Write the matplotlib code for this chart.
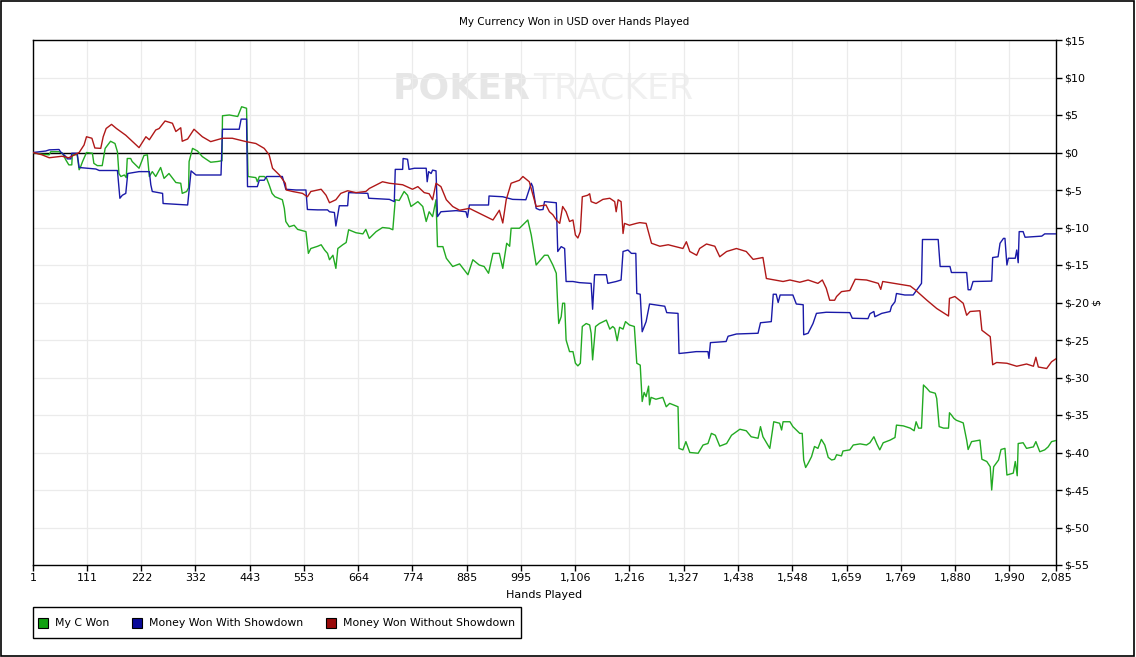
import matplotlib
matplotlib.use("Agg")
import matplotlib.pyplot as plt
from matplotlib.patches import Rectangle

# (hand, dollars)
my_c_won = [(1,0),(20,-0.25),(34,-0.3),(37,0.1),(54,0.1),(61,-0.1),(68,-1),(74,-1.65),(80,-1.65),(81,-0.3),(91,-0.3),
    (95,-2.3),(98,-1.9),(102,-1.2),(110,0),(122,-0.1),(125,-1.45),(132,-1.75),(142,-1.75),(148,0.55),(159,1.5),(168,1.2),
    (173,0.1),(176,-2.8),(180,-3.2),(187,-3),(191,-3.35),(193,-0.8),(200,-0.8),(203,-1.2),(217,-2.1),(227,-0.4),(234,-0.3),
    (238,-3.2),(244,-2.55),(251,-3.2),(261,-2),(268,-3.45),(278,-2.8),(292,-4),(302,-4.1),(305,-5.45),(314,-5.2),(318,-4.7),
    (319,-1.2),(326,0.55),(336,0.2),(346,-0.55),(363,-1.3),(377,-1.2),(386,-1.1),(387,4.9),(401,5),(418,4.8),(422,5.45),
    (426,6.1),(436,5.9),(439,-3.2),(455,-3.35),(458,-3.9),(462,-3.2),(472,-3.2),(477,-3.45),(482,-4.3),(488,-5.45),(494,-5.9),
    (509,-6.3),(513,-7.45),(516,-9.2),(523,-9.9),(533,-9.7),(540,-10.25),(557,-10.55),(562,-13.45),(567,-12.8),(581,-12.5),
    (588,-12.3),(595,-13),(601,-13.45),(605,-14.3),(612,-13.7),(618,-15.45),(622,-12.8),(632,-12.3),(639,-12),(644,-10.3),
    (659,-10.7),(673,-10.85),(679,-10.25),(686,-11.45),(700,-10.55),(713,-10),(727,-10.1),(734,-10.3),(739,-6.3),(747,-6.4),
    (757,-5.2),(764,-5.7),(771,-7.2),(785,-6.55),(795,-7.2),(802,-9.2),(808,-7.9),(815,-8.55),(822,-6.3),(825,-12.55),
    (836,-12.55),(843,-14.1),(856,-15.2),(870,-14.85),(877,-15.45),(887,-16.3),(897,-14.3),(910,-15),(920,-15.2),(929,-16.1),
    (938,-13.45),(951,-13.45),(958,-15.45),(966,-12.1),(972,-12.5),(975,-10.1),(992,-10.1),(1009,-9),(1016,-11),(1026,-15),
    (1043,-13.7),(1050,-13.7),(1060,-15),(1067,-16.1),(1070,-20.55),(1072,-22.8),(1077,-21.9),(1080,-20.1),(1084,-20.1),
    (1087,-25),(1094,-26.55),(1101,-26.55),(1106,-28.1),(1111,-28.45),(1116,-28.1),(1120,-23.2),(1128,-22.8),(1135,-23),
    (1138,-24.1),(1141,-27.65),(1147,-23.2),(1155,-22.8),(1169,-22.35),(1176,-23.55),(1182,-23.2),(1186,-23.45),(1191,-25.1),
    (1196,-23.3),(1203,-23.55),(1208,-22.55),(1216,-23),(1226,-23.2),(1231,-28.1),(1238,-28.35),(1242,-33.2),(1246,-32),
    (1250,-32.55),(1255,-31.15),(1257,-33.65),(1260,-32.65),(1270,-32.9),(1284,-32.65),(1291,-33.9),(1298,-33.45),(1315,-33.9),
    (1317,-39.45),(1325,-39.65),(1331,-38.55),(1339,-40),(1356,-40.1),(1366,-39),(1376,-38.8),(1383,-37.45),(1391,-37.7),
    (1400,-39.15),(1414,-38.8),(1424,-37.7),(1441,-36.9),(1454,-37.1),(1464,-37.9),(1478,-38.1),(1483,-36.55),(1488,-37.9),
    (1502,-39.45),(1510,-35.9),(1522,-36.1),(1526,-37),(1529,-35.9),(1543,-35.9),(1549,-36.55),(1563,-37.45),(1568,-37.45),
    (1571,-41),(1575,-42),(1580,-41.45),(1587,-40.55),(1590,-39.9),(1593,-39.2),(1600,-39.45),(1607,-38.25),(1614,-39),
    (1621,-40.65),(1628,-41),(1634,-40.9),(1638,-40.3),(1648,-40.45),(1651,-39.8),(1665,-39.65),(1672,-39),(1686,-38.85),
    (1699,-39),(1706,-38.7),(1714,-37.9),(1720,-38.85),(1726,-39.65),(1733,-38.7),(1747,-38.35),(1757,-38),(1760,-36.35),
    (1774,-36.45),(1788,-36.75),(1796,-37.1),(1800,-35.9),(1805,-36.75),(1811,-36.75),(1815,-31),(1822,-31.45),(1828,-31.9),
    (1839,-32.1),(1842,-32.8),(1847,-36.55),(1856,-36.75),(1866,-36.75),(1868,-34.7),(1872,-35),(1877,-35.45),(1882,-35.7),
    (1896,-36.05),(1903,-38.35),(1906,-39.6),(1913,-38.55),(1930,-38.35),(1934,-40.9),(1944,-41.2),(1951,-41.9),(1954,-45),
    (1958,-41.9),(1968,-41),(1973,-39.6),(1981,-39.45),(1985,-43),(1998,-42.75),(2002,-41.2),(2006,-43.1),(2008,-38.8),
    (2018,-38.7),(2025,-39.45),(2039,-39.25),(2044,-38.55),(2052,-39.9),(2062,-39.65),(2069,-39.25),(2076,-38.55),(2085,-38.4)]

with_showdown = [(1,0),(27,0.2),(34,0.35),(54,0.4),(57,0.1),(68,-0.55),(71,-0.85),(78,-0.85),(80,-0.1),(91,-0.1),(95,-2),
    (129,-2.2),(136,-2.4),(173,-2.4),(178,-6.1),(183,-5.7),(190,-5.45),(194,-2.8),(217,-2.55),(238,-2.55),(241,-4.3),
    (244,-5.2),(265,-5.45),(266,-6.8),(292,-6.9),(316,-7),(323,-2.45),(333,-3),(384,-3),(387,3.1),(421,3.1),(425,4.45),
    (436,4.45),(438,-4.55),(458,-4.55),(462,-3.7),(472,-3.7),(477,-3.2),(509,-3.2),(516,-4.9),(537,-5),(557,-5),(560,-7.6),
    (581,-7.65),(601,-7.65),(605,-7.9),(615,-8),(618,-9.8),(622,-8.3),(625,-7.1),(642,-7.1),(644,-5.35),(683,-5.45),
    (685,-6.1),(727,-6.25),(737,-6.55),(739,-2.25),(754,-2.25),(755,-0.8),(764,-0.9),(767,-2.25),(778,-2.1),(802,-2.1),
    (804,-3.9),(807,-2.55),(812,-2.8),(815,-2.35),(822,-2.45),(825,-8.55),(832,-7.9),(863,-7.75),(883,-7.9),(886,-8.65),
    (890,-7),(929,-7),(930,-5.8),(958,-5.9),(978,-6.25),(1005,-6.3),(1016,-4.1),(1019,-4.55),(1026,-7.45),(1033,-7.65),
    (1040,-7.6),(1043,-6.55),(1067,-6.7),(1070,-13.2),(1077,-12.55),(1084,-12.8),(1087,-17.2),(1101,-17.2),(1114,-17.35),
    (1138,-17.45),(1141,-20.9),(1145,-16.3),(1169,-16.3),(1172,-17.45),(1189,-17.2),(1199,-17),(1203,-13.2),(1213,-13),
    (1220,-13.45),(1229,-13.45),(1231,-18.8),(1238,-18.9),(1242,-23.9),(1250,-22.55),(1257,-20.2),(1288,-20.5),(1292,-21.35),
    (1315,-21.45),(1317,-26.8),(1332,-26.7),(1352,-26.55),(1376,-26.55),(1378,-27.45),(1381,-25.35),(1413,-25.2),(1417,-24.5),
    (1434,-24.2),(1478,-24.1),(1483,-22.7),(1505,-22.55),(1509,-18.9),(1515,-18.9),(1519,-20),(1523,-19),(1549,-19),
    (1556,-20.2),(1570,-20.3),(1571,-24.3),(1580,-24.1),(1590,-22.8),(1597,-21.45),(1617,-21.3),(1665,-21.35),(1670,-22.1),
    (1702,-22.15),(1706,-21.5),(1714,-21.2),(1716,-21.9),(1730,-21.45),(1747,-21.2),(1750,-20.5),(1757,-19.9),(1760,-18.8),
    (1777,-19),(1794,-19),(1811,-17.45),(1813,-11.6),(1845,-11.6),(1849,-15.2),(1869,-15.2),(1872,-16),(1903,-16),
    (1906,-18.3),(1911,-18.3),(1916,-17.2),(1954,-17.15),(1956,-14),(1967,-13.9),(1971,-12.1),(1978,-11.45),(1981,-11.45),
    (1985,-15),(1988,-14.1),(2002,-14.1),(2005,-13),(2008,-14.7),(2010,-10.55),(2018,-10.55),(2022,-11.3),(2056,-11.15),
    (2062,-10.85),(2085,-10.85)]

without_showdown = [(1,0),(19,-0.3),(34,-0.7),(60,-0.5),(74,-0.7),(95,0),(105,1),(110,2.1),(121,1.9),(127,0.6),(139,0.55),
    (144,2.1),(150,3.2),(161,3.75),(171,3.2),(190,2.3),(217,0.65),(231,2.1),(238,1.7),(251,3),(258,3.2),(270,4.2),(285,3.9),
    (292,2.8),(302,3.3),(305,1.5),(316,1.8),(329,3.1),(346,2.1),(363,1.45),(387,1.9),(407,1.9),(435,1.45),(455,1.2),
    (472,0.55),(482,-0.3),(489,-2.1),(503,-3),(515,-4.1),(517,-5),(530,-5.2),(550,-5.45),(560,-5.9),(567,-5.2),(588,-4.9),
    (598,-5.7),(605,-6.7),(618,-6.3),(628,-5.45),(642,-5.1),(659,-5.35),(679,-5.2),(686,-4.8),(713,-3.9),(727,-4.1),
    (741,-4.2),(754,-4.3),(774,-4.9),(785,-4.55),(798,-5.35),(808,-5.5),(815,-6.3),(822,-4.1),(832,-4.55),(843,-6.3),
    (856,-7.2),(870,-7.7),(890,-7.45),(904,-7.9),(924,-8.55),(938,-9),(951,-7.7),(958,-9.4),(965,-6.3),(975,-4.1),(992,-3.7),
    (999,-3.2),(1012,-3.9),(1026,-7.2),(1046,-7),(1053,-7.9),(1060,-8.3),(1067,-9),(1074,-9.45),(1080,-7.2),(1087,-7.9),
    (1094,-9.2),(1101,-9),(1106,-11),(1111,-11.4),(1116,-10.55),(1120,-5.9),(1131,-5.7),(1135,-5.5),(1138,-6.55),(1148,-6.8),
    (1162,-6.25),(1176,-6.1),(1186,-6.55),(1189,-7.9),(1193,-6.3),(1199,-6.55),(1203,-10.8),(1206,-9.45),(1216,-9.7),
    (1230,-9.45),(1237,-9.35),(1250,-9.45),(1261,-12.1),(1278,-12.5),(1295,-12.3),(1325,-12.8),(1332,-11.9),(1339,-13.2),
    (1353,-13.7),(1359,-12.8),(1373,-12.2),(1390,-12.5),(1400,-13.9),(1414,-13.2),(1434,-12.8),(1454,-13.2),(1468,-14.25),
    (1488,-14),(1495,-16.8),(1529,-17.2),(1543,-17),(1563,-17.3),(1580,-17),(1600,-17.45),(1609,-17),(1617,-18.1),
    (1624,-19.7),(1634,-19.7),(1638,-19.2),(1648,-18.55),(1665,-18.4),(1676,-16.9),(1699,-17),(1723,-17.45),(1728,-18.25),
    (1732,-17.2),(1760,-17.5),(1788,-17.8),(1798,-18.3),(1822,-19.7),(1842,-20.8),(1866,-21.8),(1868,-19.45),(1879,-19.2),
    (1896,-20.1),(1903,-21.7),(1910,-21.2),(1930,-21.1),(1934,-23.7),(1951,-24.55),(1956,-28.3),(1964,-28),(1985,-28.1),
    (2005,-28.5),(2025,-28.2),(2039,-28.5),(2044,-27.3),(2049,-28.6),(2066,-28.8),(2076,-27.9),(2085,-27.5)]

series_names = ["My C Won", "Money Won With Showdown", "Money Won Without Showdown"]
line_colors = ["#22aa22", "#1a1aa8", "#b01818"]
legend_colors = ["#11a011", "#0a0a99", "#990a0a"]

x_ticks = [1, 111, 222, 332, 443, 553, 664, 774, 885, 995, 1106, 1216, 1327, 1438, 1548, 1659, 1769, 1880, 1990, 2085]
y_ticks = list(range(-55, 16, 5))

W, H = 1136, 657
fig = plt.figure(figsize=(W/100, H/100), dpi=100)
ax = fig.add_axes([33/W, 1-565/H, 1023/W, 525/H])

for data, c in zip([my_c_won, with_showdown, without_showdown], line_colors):
    h, v = zip(*data)
    ax.plot(h, v, color=c, lw=1.0, zorder=3)

ax.axhline(0, color="black", lw=1.0, zorder=2)
ax.set_xlim(1, 2085)
ax.set_ylim(-55, 15)
ax.set_xticks(x_ticks)
ax.set_xticklabels([f"{t:,}" for t in x_ticks])
ax.set_yticks(y_ticks)
ax.set_yticklabels([f"${t}" for t in y_ticks])
ax.yaxis.tick_right()
ax.yaxis.set_label_position("right")
ax.tick_params(direction="out", length=4, width=1, labelsize=8, pad=2)
ax.grid(True, color="#ebebeb", lw=0.9)
ax.set_axisbelow(True)
for s in ax.spines.values():
    s.set_linewidth(1.0)

ax.set_xlabel("Hands Played", fontsize=8, labelpad=5)
ax.set_ylabel("$", fontsize=8, rotation=270, labelpad=7)

# watermark, under the grid
ax.text(0.352, 0.907, "POKER", transform=ax.transAxes, fontsize=26, fontweight="bold",
        color="#e6e6e6", ha="left", va="center", zorder=0.2)
ax.text(0.489, 0.907, "TRACKER", transform=ax.transAxes, fontsize=25,
        color="#f0f0f0", ha="left", va="center", zorder=0.2)

fig.text(574/W, 1-22/H, "My Currency Won in USD over Hands Played", fontsize=7.5, ha="center", va="center")

# legend box drawn by hand to match the original layout
fig.patches.append(Rectangle((33/W, 1-638/H), 488/W, 31/H, transform=fig.transFigure,
                             fill=False, ec="black", lw=1.0))
for name, c, px in zip(series_names, legend_colors, [38, 132, 326]):
    fig.patches.append(Rectangle((px/W, 1-628/H), 10/W, 10/H, transform=fig.transFigure,
                                 fc=c, ec="black", lw=0.8))
    fig.text((px+17)/W, 1-623/H, name, fontsize=7.8, ha="left", va="center")

fig.patches.append(Rectangle((0.0005, 0.001), 0.998, 0.998, transform=fig.transFigure, fill=False,
                             ec="black", lw=1.2))

fig.savefig("out.png", dpi=100)
